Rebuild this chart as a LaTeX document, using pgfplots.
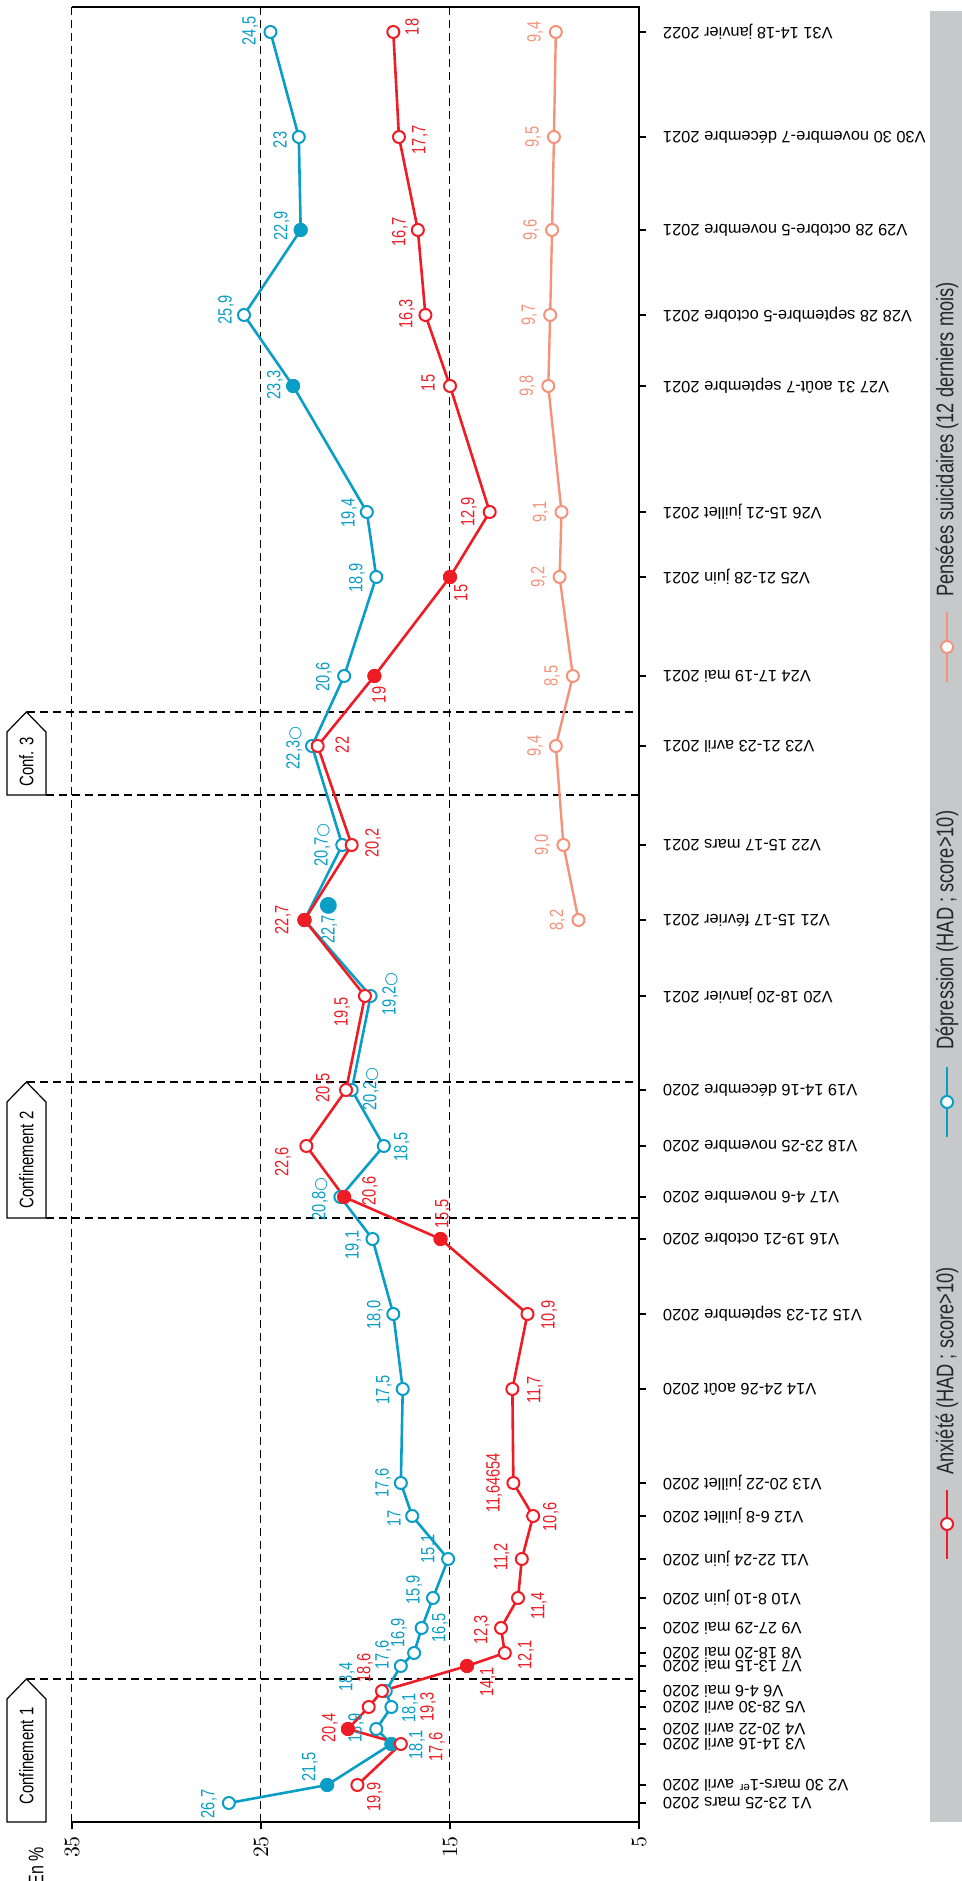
\documentclass[border=0pt]{standalone}
\usepackage{pgfplots}
\pgfplotsset{compat=1.18}
\usepackage{fontspec}
\setmainfont{Liberation Sans}
\newfontfamily\cond{Liberation Sans}[FakeStretch=0.76]
\newfontfamily\sym{DejaVu Sans}
\definecolor{cblue}{HTML}{0A9DC6}
\definecolor{cred}{HTML}{EE1C25}
\definecolor{cpink}{HTML}{F4937A}
\definecolor{lgray}{HTML}{C6C8C9}
\newcommand{\lab}{\cond\fontsize{9.6}{10}\selectfont}
\newcommand{\legf}{\cond\fontsize{12}{14}\selectfont}
\newcommand{\oc}{{\sym\fontsize{8}{8}\selectfont ○}}
\newcommand{\fc}{{\sym\fontsize{11}{11}\selectfont ●}}
\newcommand{\bl}[3]{\node[rotate=90,text=cblue,font=\lab,inner sep=0pt] at (axis cs:#1,#2) {#3};}
\newcommand{\rl}[3]{\node[rotate=90,text=cred,font=\lab,inner sep=0pt] at (axis cs:#1,#2) {#3};}
\newcommand{\pl}[3]{\node[rotate=90,text=cpink,font=\lab,inner sep=0pt] at (axis cs:#1,#2) {#3};}
\newcommand{\confbox}[4]{%
  \draw[line width=0.6pt,fill=white] (axis cs:38.44,#1) -- (axis cs:38.44,#2-20) -- (axis cs:37.41,#2) -- (axis cs:36.38,#2-20) -- (axis cs:36.38,#1) -- cycle;
  \node[rotate=90,font=\cond\fontsize{9.8}{11}\selectfont,inner sep=0pt] at (axis cs:37.41,#3) {#4};}
\begin{document}
\begin{tikzpicture}
\begin{axis}[
  at={(0,0)}, anchor=south west,
  scale only axis, width=283.5pt, height=907.5pt,
  x dir=reverse,
  xmin=5, xmax=35, ymin=0, ymax=1815,
  clip=false,
  axis line style={draw=none},
  xtick={5,15,25,35},
  xtick pos=left,
  ytick pos=right,
  yticklabel pos=right,
  tick align=outside,
  major tick length=3.5pt,
  every tick/.style={black, line width=0.8pt},
  xmajorgrids=true,
  grid style={black, line width=0.5pt, dash pattern=on 4pt off 2.5pt},
  xticklabel style={rotate=90, anchor=east, font=\cond\fontsize{10.5}{12}\selectfont},
  yticklabel style={rotate=180, anchor=east, font=\fontsize{8.2}{9}\selectfont},
  yticklabel shift=5pt,
  ytick={19,37,78,93,115,131,156,169,194,224,263,306,339,433,508,583,625,676,732,826,902,977,1076,1146,1245,1310,1436,1507,1592,1685,1790},
  yticklabels={V1 23-25 mars 2020, V2 30 mars-1\textsuperscript{er} avril 2020, V3 14-16 avril 2020, V4 20-22 avril 2020, V5 28-30 avril 2020, V6 4-6 mai 2020, V7 13-15 mai 2020, V8 18-20 mai 2020, V9 27-29 mai 2020, V10 8-10 juin 2020, V11 22-24 juin 2020, V12 6-8 juillet 2020, V13 20-22 juillet 2020, V14 24-26 août 2020, V15 21-23 septembre 2020, V16 19-21 octobre 2020, V17 4-6 novembre 2020, V18 23-25 novembre 2020, V19 14-16 décembre 2020, V20 18-20 janvier 2021, V21 15-17 février 2021, V22 15-17 mars 2021, V23 21-23 avril 2021, V24 17-19 mai 2021, V25 21-28 juin 2021, V26 15-21 juillet 2021, V27 31 août-7 septembre 2021, V28 28 septembre-5 octobre 2021, V29 28 octobre-5 novembre 2021, V30 30 novembre-7 décembre 2021, V31 14-18 janvier 2022},
]
% legend band and keys
\fill[lgray] (axis cs:-10.4,0) rectangle (axis cs:-12.8,1811);
\draw[cred, line width=1.3pt] (axis cs:-11.3,263) -- (axis cs:-11.3,332);
\draw[cred, line width=1pt, fill=white] (axis cs:-11.3,298) circle[radius=3pt];
\node[rotate=90, anchor=west, inner sep=0pt, font=\legf, text=black!85] at (axis cs:-11.3,347) {Anxiété (HAD ; score>10)};
\draw[cblue, line width=1.3pt] (axis cs:-11.3,685) -- (axis cs:-11.3,755);
\draw[cblue, line width=1pt, fill=white] (axis cs:-11.3,720) circle[radius=3pt];
\node[rotate=90, anchor=west, inner sep=0pt, font=\legf, text=black!85] at (axis cs:-11.3,772) {Dépression (HAD ; score>10)};
\draw[cpink, line width=1.3pt] (axis cs:-11.3,1140) -- (axis cs:-11.3,1210);
\draw[cpink, line width=1pt, fill=white] (axis cs:-11.3,1175) circle[radius=3pt];
\node[rotate=90, anchor=west, inner sep=0pt, font=\legf, text=black!85] at (axis cs:-11.3,1225) {Pensées suicidaires (12 derniers mois)};

% frame
\draw[line width=1pt] (axis cs:35,0) -- (axis cs:5,0) -- (axis cs:5,1815) -- (axis cs:35,1815);

% confinement lines and boxes
\draw[line width=0.6pt, dash pattern=on 4pt off 2.5pt] (axis cs:37.38,143) -- (axis cs:5,143);
\draw[line width=0.6pt, dash pattern=on 4pt off 2.5pt] (axis cs:36.38,604) -- (axis cs:5,604);
\draw[line width=0.6pt, dash pattern=on 4pt off 2.5pt] (axis cs:37.38,740) -- (axis cs:5,740);
\draw[line width=0.6pt, dash pattern=on 4pt off 2.5pt] (axis cs:36.38,1027) -- (axis cs:5,1027);
\draw[line width=0.6pt, dash pattern=on 4pt off 2.5pt] (axis cs:37.38,1110) -- (axis cs:5,1110);
\confbox{0}{143}{66}{Confinement 1}
\confbox{604}{740}{662}{Confinement 2}
\confbox{1027}{1110}{1060}{Conf. 3}

% Depression
\addplot[forget plot, cblue, line width=1.3pt, mark=*, mark size=3pt, mark options={fill=white, line width=1pt}] coordinates {
(26.7,19) (21.5,37) (18.1,78) (18.9,93) (18.1,115) (18.4,131) (17.6,156) (16.9,169) (16.5,194) (15.9,224) (15.1,263) (17,306) (17.6,339) (17.5,433) (18.0,508) (19.1,583) (20.8,625) (18.5,676) (20.2,732) (19.2,826) (22.7,902) (20.7,977) (22.3,1076) (20.6,1146) (18.9,1245) (19.4,1310) (23.3,1436) (25.9,1507) (22.9,1592) (23,1685) (24.5,1790)};
\addplot[forget plot, only marks, cblue, mark=*, mark size=3pt, mark options={fill=cblue, line width=1pt}] coordinates {
(21.5,37) (18.1,78) (22.7,902) (23.3,1436) (22.9,1592)};
% Anxiety
\addplot[forget plot, cred, line width=1.3pt, mark=*, mark size=3pt, mark options={fill=white, line width=1pt}] coordinates {
(19.9,37) (17.6,78) (20.4,93) (19.3,115) (18.6,131) (14.1,156) (12.1,169) (12.3,194) (11.4,224) (11.2,263) (10.6,306) (11.64654,339) (11.7,433) (10.9,508) (15.5,583) (20.6,625) (22.6,676) (20.5,732) (19.5,826) (22.7,902) (20.2,977) (22,1076) (19,1146) (15,1245) (12.9,1310) (15,1436) (16.3,1507) (16.7,1592) (17.7,1685) (18,1790)};
\addplot[forget plot, only marks, cred, mark=*, mark size=3pt, mark options={fill=cred, line width=1pt}] coordinates {
(20.4,93) (14.1,156) (15.5,583) (20.6,625) (22.7,902) (19,1146) (15,1245)};
% Suicidal thoughts
\addplot[forget plot, cpink, line width=1.2pt, mark=*, mark size=3pt, mark options={fill=white, line width=1pt}] coordinates {
(8.2,902) (9.0,977) (9.4,1076) (8.5,1146) (9.2,1245) (9.1,1310) (9.8,1436) (9.7,1507) (9.6,1592) (9.5,1685) (9.4,1790)};

% labels blue
\bl{27.75}{18}{26,7}
\bl{22.41}{55}{21,5}
\bl{16.75}{77}{18,1}
\bl{19.97}{94}{18,9}
\bl{17.12}{114}{18,1}
\bl{20.45}{145}{18,4}
\bl{18.54}{167}{17,6}
\bl{17.70}{189}{16,9}
\bl{15.53}{194}{16,5}
\bl{16.9}{232}{15,9}
\bl{16.11}{273}{15,1}
\bl{17.96}{304}{17}
\bl{18.54}{339}{17,6}
\bl{18.49}{432}{17,5}
\bl{18.97}{507}{18,0}
\bl{20.13}{577}{19,1}
\bl{21.88}{623}{20,8\oc}
\bl{17.54}{675}{18,5}
\bl{19.18}{733}{20,2\oc}
\bl{18.17}{828}{19,2\oc}
\bl{21.4}{902}{22,7\fc}
\bl{21.77}{977}{20,7\oc}
\bl{23.25}{1074}{22,3\oc}
\bl{21.67}{1145}{20,6}
\bl{19.92}{1244}{18,9}
\bl{20.34}{1309}{19,4}
\bl{24.26}{1437}{23,3}
\bl{26.85}{1512}{25,9}
\bl{23.89}{1596}{22,9}
\bl{23.99}{1682}{23}
\bl{25.58}{1791}{24,5}
% labels red
\rl{18.97}{25}{19,9}
\rl{15.69}{75}{17,6}
\rl{21.35}{94}{20,4}
\rl{16.16}{115}{19,3}
\rl{19.5}{154}{18,6}
\rl{12.99}{140}{14,1}
\rl{10.98}{167}{12,1}
\rl{13.31}{192}{12,3}
\rl{10.29}{216}{11,4}
\rl{12.25}{265}{11,2}
\rl{9.66}{305}{10,6}
\rl{12.67}{339}{11,64654}
\rl{10.5}{432}{11,7}
\rl{9.76}{507}{10,9}
\rl{15.37}{608}{15,5}
\rl{19.23}{631}{20,6}
\rl{23.84}{660}{22,6}
\rl{21.67}{734}{20,5}
\rl{20.71}{810}{19,5}
\rl{23.84}{902}{22,7}
\rl{19.07}{979}{20,2}
\rl{20.71}{1077}{22}
\rl{18.76}{1127}{19}
\rl{14.42}{1229}{15}
\rl{14.0}{1310}{12,9}
\rl{16.16}{1439}{15}
\rl{17.28}{1508}{16,3}
\rl{17.65}{1590}{16,7}
\rl{16.59}{1682}{17,7}
\rl{17.01}{1795}{18}
% labels pink
\pl{9.3}{902}{8,2}
\pl{10.1}{977}{9,0}
\pl{10.5}{1076}{9,4}
\pl{9.6}{1146}{8,5}
\pl{10.3}{1245}{9,2}
\pl{10.2}{1310}{9,1}
\pl{10.9}{1436}{9,8}
\pl{10.8}{1507}{9,7}
\pl{10.7}{1592}{9,6}
\pl{10.6}{1685}{9,5}
\pl{10.5}{1790}{9,4}

\node[rotate=90, anchor=east, font=\cond\fontsize{10.5}{12}\selectfont, inner sep=0pt] at (axis cs:36.9,-25) {En \%};
\coordinate (bbA) at (axis cs:38.81,-59);
\coordinate (bbB) at (axis cs:-12.09,1822);
\end{axis}
\pgfresetboundingbox
\path[use as bounding box] (bbA) rectangle (bbB);
\end{tikzpicture}
\end{document}
